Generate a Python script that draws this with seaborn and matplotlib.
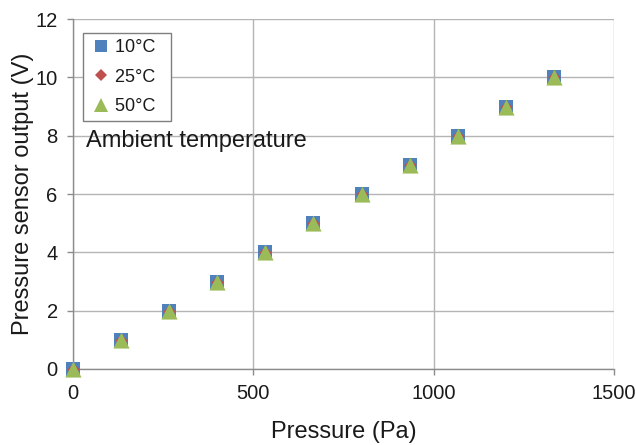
import numpy as np
import matplotlib
matplotlib.use("Agg")
import matplotlib.pyplot as plt
from matplotlib.lines import Line2D
import seaborn as sns

# pressure steps are 1 Torr (133.3 Pa)
pressure = [0, 133.3, 266.6, 400.0, 533.3, 666.6, 800.0, 933.3, 1066.6, 1200.0, 1333.3]
out_10c = [0, 1, 2, 3, 4, 5, 6, 7, 8, 9, 10]
out_25c = [0, 1, 2, 3, 4, 5, 6, 7, 8, 9, 10]
out_50c = [0, 1, 2, 3, 4, 5, 6, 7, 8, 9, 10]
labels = ["10°C", "25°C", "50°C"]
colors = ["#4F81BD", "#C0504D", "#9BBB59"]

sns.set_theme(style="white")
plt.rcParams['font.family'] = ['Liberation Sans', 'DejaVu Sans']
txt = "#1a1a1a"
grid_c = "#b4b4b4"

fig = plt.figure(figsize=(6.36, 4.45), dpi=100)
ax = fig.add_axes([0.1148, 0.1708, 0.8506, 0.7862])

series = [out_10c, out_25c, out_50c]
markers = ["s", "D", "^"]
sizes = [100, 40, 135]
for vals, m, c, s in zip(series, markers, colors, sizes):
    sns.scatterplot(x=pressure, y=vals, marker=m, color=c, s=s, linewidth=0,
                    ax=ax, zorder=3, clip_on=False, legend=False)

ax.set_xlim(0, 1500)
ax.set_ylim(0, 12)
ax.set_xticks([0, 500, 1000, 1500])
ax.set_yticks(range(0, 13, 2))
ax.grid(True, color=grid_c, linewidth=1.0)
ax.set_axisbelow(True)
for side in ["top", "right"]:
    ax.spines[side].set_visible(False)
for side in ["left", "bottom"]:
    ax.spines[side].set_color("#8c8c8c")
    ax.spines[side].set_linewidth(1.0)
ax.tick_params(axis="both", direction="out", length=4, width=1.0, color="#8c8c8c",
               labelsize=14.5, labelcolor=txt, pad=7, left=True, bottom=True)
ax.set_xlabel("Pressure (Pa)", fontsize=17, color=txt, labelpad=12.5)
ax.set_ylabel("Pressure sensor output (V)", fontsize=17, color=txt, labelpad=1)

handles = [
    Line2D([], [], linestyle="none", marker="s", markersize=9.0, color=colors[0], markeredgewidth=0),
    Line2D([], [], linestyle="none", marker="D", markersize=6.0, color=colors[1], markeredgewidth=0),
    Line2D([], [], linestyle="none", marker="^", markersize=10.0, color=colors[2], markeredgewidth=0),
]
leg_labels = [lab + "\u00a0\u00a0" for lab in labels]
leg = ax.legend(handles, leg_labels, loc="upper left", bbox_to_anchor=(0.1305, 0.9258),
                bbox_transform=fig.transFigure, borderaxespad=0, fontsize=13,
                frameon=True, fancybox=False, framealpha=1, edgecolor="#7f7f7f",
                handlelength=1.3, handletextpad=0.1, labelspacing=0.68, borderpad=0.35)
leg.get_frame().set_linewidth(1.0)
for t in leg.get_texts():
    t.set_color(txt)

fig.text(86 / 636, 1 - 147 / 445, "Ambient temperature", fontsize=17, color=txt,
         ha="left", va="baseline")

fig.savefig("out.png", dpi=100)
